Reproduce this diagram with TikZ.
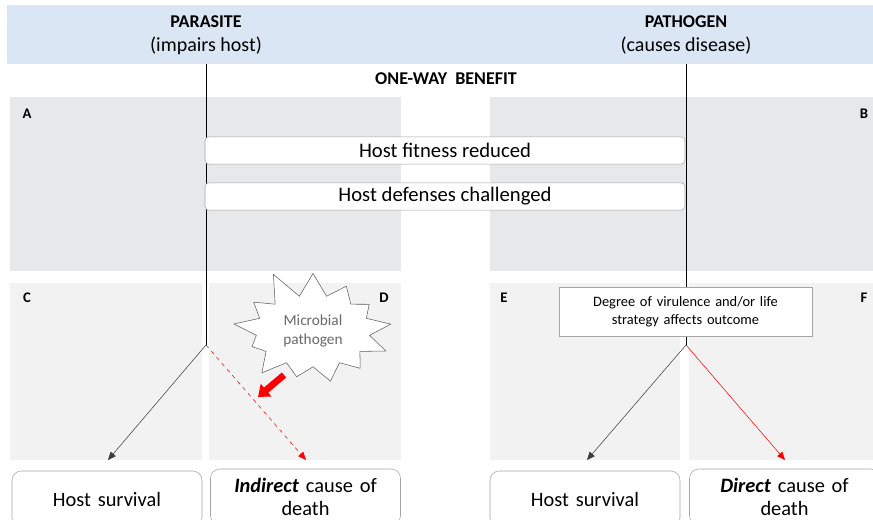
\documentclass[tikz,border=0pt]{standalone}
\usepackage{fontspec}
\setmainfont{Carlito}
\usetikzlibrary{arrows.meta,shapes.symbols}

\definecolor{headblue}{RGB}{219,230,245}
\definecolor{panelgray}{RGB}{231,232,233}
\definecolor{lightpanel}{RGB}{242,242,242}
\definecolor{boxline}{RGB}{165,165,165}
\definecolor{burstgray}{RGB}{105,105,105}
\definecolor{arrowgray}{RGB}{60,60,60}

\begin{document}
\begin{tikzpicture}[x=0.75pt, y=-0.75pt, >={Triangle[length=6pt,width=5pt]},
	every node/.style={font=\fontsize{11}{13}\selectfont},
	headtext/.style={font=\fontsize{13.5}{15}\selectfont\bfseries},
	subtext/.style={font=\fontsize{15}{17}\selectfont},
	panellabel/.style={font=\fontsize{11}{12}\selectfont\bfseries},
	midbox/.style={draw=boxline, fill=white, rounded corners=3pt, minimum width=360pt, minimum height=20.5pt, inner sep=0pt, font=\fontsize{15.5}{17}\selectfont},
	endbox/.style={draw=boxline, fill=white, rounded corners=7pt, minimum width=142.5pt, minimum height=42pt, text width=138pt, align=center, inner sep=0pt, font=\fontsize{15.3}{17.5}\selectfont},
	outcome/.style={draw=boxline, fill=white, minimum width=190pt, minimum height=37pt, text width=185pt, align=center, inner sep=0pt, font=\fontsize{10.8}{13.5}\selectfont}]

	\useasboundingbox (0,0) rectangle (873,520);
	% header band and panels
	\fill[headblue] (7,5) rectangle (873,64);
	\fill[panelgray] (10,97) rectangle (401,271);
	\fill[panelgray] (490,97) rectangle (873,271);
	\fill[lightpanel] (10,283) rectangle (202,460);
	\fill[lightpanel] (209,283) rectangle (401,460);
	\fill[lightpanel] (490,283) rectangle (680,460);
	\fill[lightpanel] (689,283) rectangle (873,460);
	\foreach \x/\y/\l in {27/114/A, 864/114/B, 27/298/C, 384/298/D, 504/298/E, 864/298/F}
		\node[panellabel] (lab\l) at (\x,\y) {\l};

	\node[headtext] (parasite) at (206,22) {PARASITE};
	\node[subtext] (parasiteSub) at (206,46) {(impairs host)};
	\node[headtext] (pathogen) at (686,22) {PATHOGEN};
	\node[subtext] (pathogenSub) at (686,46) {(causes disease)};
	\node[headtext] (benefit) at (446,79) {ONE-WAY\ \ BENEFIT};

	\coordinate (parTop) at (206,64);
	\coordinate (parFork) at (206,345);
	\coordinate (patTop) at (686,64);
	\coordinate (patFork) at (686,345);
	\draw (parTop) -- (parFork);
	\draw (patTop) -- (patFork);

	\node[midbox] (fitness) at (445,150.5) {Host fitness reduced};
	\node[midbox] (defenses) at (445,196.5) {Host defenses challenged};
	\node[outcome] (virulence) at (685.5,311.5) {Degree of virulence and/or life\\strategy affects outcome};

	\node[starburst, draw=burstgray!90!black, fill=white, text=burstgray, align=center,
		starburst points=13, starburst point height=22pt, random starburst=11,
		inner xsep=8pt, inner ysep=7pt, font=\fontsize{11.5}{14}\selectfont] (microbe) at (313,331) {Microbial\\pathogen};

	\coordinate (hitTail) at (284,375);
	\coordinate (hitTip) at (258,397);
	\draw[red, line width=5pt, -{Triangle[length=8pt,width=12pt]}] (hitTail) -- (hitTip);

	\coordinate (survEndL) at (108,460);
	\coordinate (deathEndL) at (306,460);
	\coordinate (survEndR) at (587,460);
	\coordinate (deathEndR) at (785,460);
	\draw[->, arrowgray] (parFork) -- (survEndL);
	\draw[->, red, dashed] (parFork) -- (deathEndL);
	\draw[->, arrowgray] (patFork) -- (survEndR);
	\draw[->, red] (patFork) -- (deathEndR);

	\node[endbox] (survL) at (107,499) {Host survival};
	\node[endbox] (deathL) at (305.5,497) {\textbf{\textit{Indirect}} cause of\\death};
	\node[endbox] (survR) at (585,499) {Host survival};
	\node[endbox] (deathR) at (784.5,497) {\textbf{\textit{Direct}} cause of\\death};
\end{tikzpicture}
\end{document}
